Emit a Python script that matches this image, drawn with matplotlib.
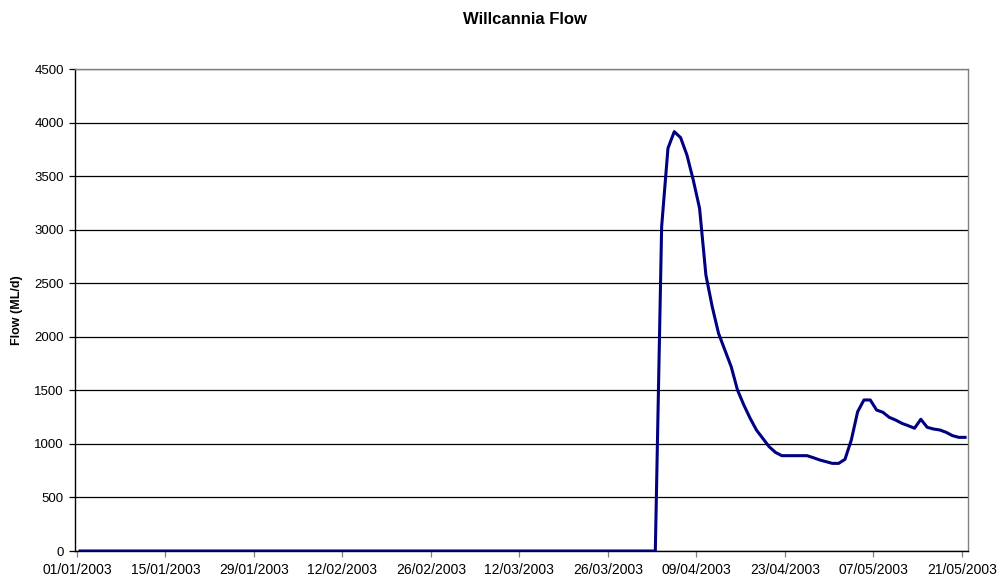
import matplotlib
matplotlib.use("Agg")
import matplotlib.pyplot as plt
import matplotlib.dates as mdates
import numpy as np
import pandas as pd

plt.rcParams['font.family'] = ['Liberation Sans', 'DejaVu Sans']

# Daily flow, 01/01/2003 .. 21/05/2003
start_date = "2003-01-01"
zero_days = 92  # 01/01 .. 02/04 all zero
flow_event = [3028, 3760, 3915, 3859, 3697, 3464, 3199, 2577, 2281, 2032,
              1877, 1721, 1503, 1363, 1239, 1129, 1051, 974, 921, 890,
              890, 890, 890, 890, 871, 850, 834, 818, 818, 856,
              1036, 1300, 1410, 1410, 1316, 1295, 1248, 1223, 1192, 1170,
              1146, 1230, 1155, 1139, 1130, 1108, 1077, 1061, 1061]
flow = [0] * zero_days + flow_event
dates = pd.date_range(start_date, periods=len(flow), freq="D")

tick_dates = pd.date_range("2003-01-01", "2003-05-21", freq="14D")
y_ticks = list(range(0, 5000, 500))

fig = plt.figure(figsize=(10.01, 5.79), dpi=100)
ax = fig.add_axes([75 / 1001, 1 - 551 / 579, (968 - 75) / 1001, (551 - 69) / 579])

x = dates + pd.Timedelta(hours=12)
ax.plot(x, flow, color="#000080", lw=2.2, solid_joinstyle="round", zorder=3)

ax.set_xlim(pd.Timestamp("2003-01-01") - pd.Timedelta(hours=7),
            pd.Timestamp("2003-05-22") - pd.Timedelta(hours=1))
ax.set_ylim(0, 4500)
ax.set_yticks(y_ticks)
ax.set_xticks(tick_dates)
ax.xaxis.set_major_formatter(mdates.DateFormatter("%d/%m/%Y"))
ax.grid(axis="y", color="black", lw=0.9)
ax.set_axisbelow(True)

for s in ["top", "right"]:
    ax.spines[s].set_color("#808080")
    ax.spines[s].set_linewidth(1.0)
for s in ["left", "bottom"]:
    ax.spines[s].set_color("black")
    ax.spines[s].set_linewidth(1.0)

ax.tick_params(axis="both", direction="out", length=4, width=0.9, color="black",
               labelsize=9.5, pad=4)
ax.tick_params(axis="x", color="#808080", pad=5, labelsize=10)

fig.text(17 / 1001, 1 - 310 / 579, "Flow (ML/d)", rotation=90, ha="center",
         va="center", fontsize=9, fontweight="bold")
fig.text(525 / 1001, 1 - 20 / 579, "Willcannia Flow", ha="center", va="center",
         fontsize=12, fontweight="bold")

fig.savefig("out.png", dpi=100, facecolor="white")
